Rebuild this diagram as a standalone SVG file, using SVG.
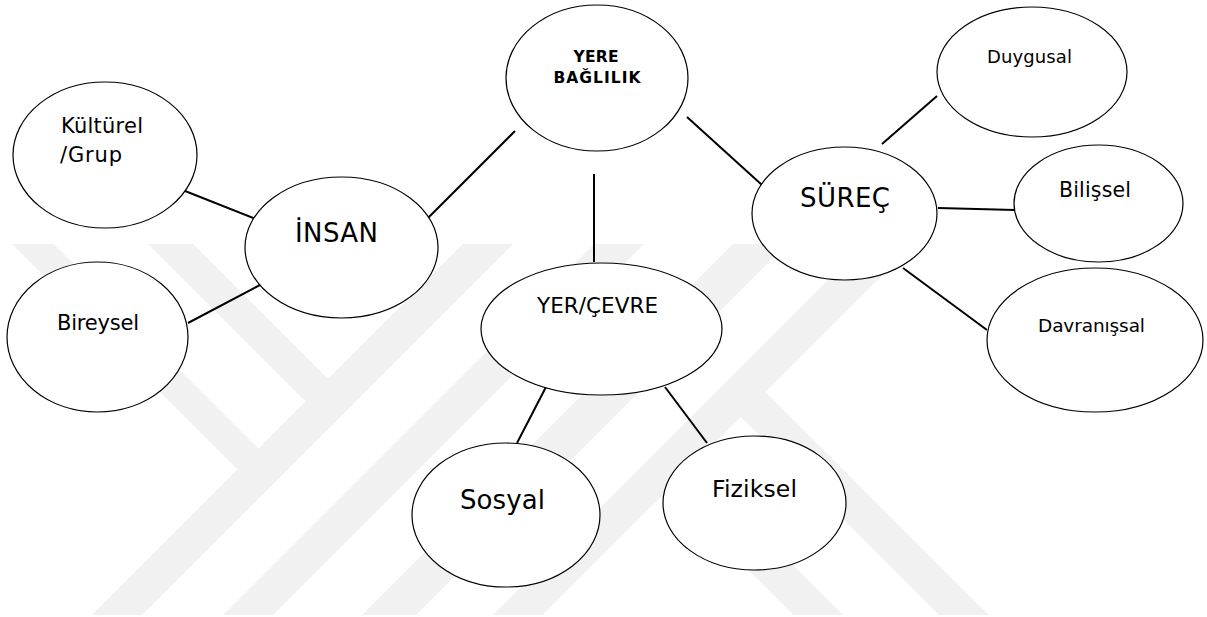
<svg xmlns="http://www.w3.org/2000/svg" width="1207" height="617" viewBox="0 0 1207 617">
<style>
.wm{fill:#f1f1f1;stroke:none}
.node ellipse{fill:#ffffff;stroke:#000000;stroke-width:1.2}
.node text{font-family:"DejaVu Sans","Verdana","Liberation Sans",sans-serif;fill:#000000}
.bold{font-weight:bold}
#connectors line{stroke:#000000;stroke-width:2;stroke-linecap:butt}
</style>
<rect x="0" y="0" width="1207" height="617" fill="#ffffff"/>
<g id="watermark">
<polygon class="wm" points="12,244 54,244 283.5,473.5 262.5,494.5"/>
<polygon class="wm" points="148,244 193,244 353,404 330.5,426.5"/>
<polygon class="wm" points="463,244 513,244 142,615 92,615"/>
<polygon class="wm" points="594,244 644,244 273,615 223,615"/>
<polygon class="wm" points="733,244 787,244 416,615 362,615"/>
<polygon class="wm" points="864,244 914,244 543,615 493,615"/>
<polygon class="wm" points="643,465 668,440 843,615 793,615"/>
<polygon class="wm" points="716,392 741,367 989,615 939,615"/>
</g>
<g id="connectors">
<line x1="185" y1="191" x2="256" y2="219"/>
<line x1="188" y1="323" x2="260" y2="285"/>
<line x1="428" y1="218" x2="515" y2="131"/>
<line x1="687" y1="117" x2="762" y2="185"/>
<line x1="594" y1="174" x2="594" y2="262"/>
<line x1="882" y1="144" x2="937" y2="96"/>
<line x1="938" y1="208" x2="1015" y2="210"/>
<line x1="903" y1="268" x2="987" y2="330"/>
<line x1="546" y1="387" x2="517" y2="443"/>
<line x1="665" y1="387" x2="707" y2="443"/>
</g>
<g id="node-yere-baglilik" class="node">
<ellipse cx="597" cy="78" rx="91" ry="73"/>
<text class="bold" x="596" y="62" font-size="15.5" text-anchor="middle" textLength="45">YERE</text>
<text class="bold" x="597" y="83" font-size="15.5" text-anchor="middle" textLength="87">BAĞLILIK</text>
</g>
<g id="node-kulturel" class="node">
<ellipse cx="105" cy="155" rx="92" ry="73"/>
<text x="61" y="133" font-size="21" textLength="82">Kültürel</text>
<text x="60" y="162" font-size="21" textLength="62">/Grup</text>
</g>
<g id="node-insan" class="node">
<ellipse cx="341.5" cy="247.5" rx="96.5" ry="70.5"/>
<text x="295" y="242" font-size="26" textLength="83">İNSAN</text>
</g>
<g id="node-bireysel" class="node">
<ellipse cx="97.5" cy="337" rx="90.5" ry="75"/>
<text x="57" y="330" font-size="21" textLength="82">Bireysel</text>
</g>
<g id="node-surec" class="node">
<ellipse cx="844.5" cy="213.5" rx="92.5" ry="66.5"/>
<text x="800" y="207" font-size="26" textLength="90">SÜREÇ</text>
</g>
<g id="node-duygusal" class="node">
<ellipse cx="1032" cy="72" rx="95" ry="65"/>
<text x="987" y="63" font-size="18" textLength="85">Duygusal</text>
</g>
<g id="node-bilissel" class="node">
<ellipse cx="1098.5" cy="203.5" rx="84.5" ry="58.5"/>
<text x="1059" y="197" font-size="20.5" textLength="72">Bilişsel</text>
</g>
<g id="node-davranissal" class="node">
<ellipse cx="1095" cy="340" rx="108" ry="72"/>
<text x="1038" y="332" font-size="18.5" textLength="107">Davranışsal</text>
</g>
<g id="node-yer-cevre" class="node">
<ellipse cx="601.5" cy="329" rx="120.5" ry="66"/>
<text x="537" y="313" font-size="21.5" textLength="121">YER/ÇEVRE</text>
</g>
<g id="node-sosyal" class="node">
<ellipse cx="506" cy="515" rx="94" ry="72"/>
<text x="460" y="509" font-size="26" textLength="85">Sosyal</text>
</g>
<g id="node-fiziksel" class="node">
<ellipse cx="754.5" cy="503" rx="91.5" ry="67"/>
<text x="712" y="497" font-size="23.5" textLength="85">Fiziksel</text>
</g>
</svg>
